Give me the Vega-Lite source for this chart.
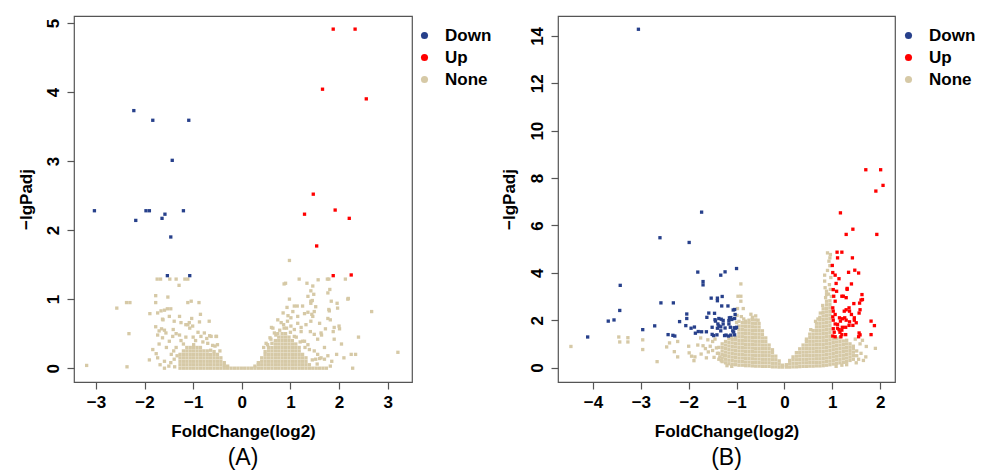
{
  "$schema": "https://vega.github.io/schema/vega-lite/v6.json",
  "background": "white",
  "padding": {"left": 16, "top": 15, "right": 0, "bottom": 0},
  "bounds": "flush",
  "spacing": 146,
  "resolve": {"scale": {"color": "independent"}, "legend": {"color": "independent"}},
  "config": {
    "font": "Liberation Sans",
    "view": {"stroke": "#555555", "strokeWidth": 1.2},
    "axis": {"domain": false, "grid": false, "tickColor": "#555555", "tickSize": 7, "tickWidth": 1.2,
      "labelFont": "Liberation Sans", "labelFontSize": 17, "labelFontWeight": "bold", "labelColor": "#000000",
      "labelPadding": 5, "labelFlush": false, "labelOverlap": false,
      "titleFont": "Liberation Sans", "titleFontSize": 17, "titleFontWeight": "bold", "titleColor": "#000000"},
    "legend": {"orient": "none", "legendX": 342, "legendY": 11, "padding": 0, "symbolType": "circle", "symbolSize": 50,
      "symbolStrokeWidth": 0, "labelFont": "Liberation Sans", "labelFontSize": 17, "labelFontWeight": "bold",
      "labelColor": "#000000", "labelOffset": 12, "rowPadding": 4},
    "title": {"font": "Liberation Sans", "fontSize": 23, "fontWeight": "normal", "color": "#000000", "offset": 8}
  },
  "datasets": {
    "aDown": [{"x":-2.22,"y":3.73},{"x":-1.83,"y":3.59},{"x":-1.09,"y":3.59},{"x":-1.43,"y":3.01},{"x":-3.03,"y":2.28},{"x":-2.18,"y":2.14},{"x":-1.97,"y":2.28},{"x":-1.9,"y":2.28},{"x":-1.64,"y":2.17},{"x":-1.58,"y":2.23},{"x":-1.2,"y":2.28},{"x":-1.46,"y":1.9},{"x":-1.53,"y":1.34},{"x":-1.07,"y":1.34}],
    "aUp": [{"x":1.88,"y":4.91},{"x":2.33,"y":4.91},{"x":1.66,"y":4.04},{"x":2.56,"y":3.9},{"x":1.47,"y":2.52},{"x":1.29,"y":2.23},{"x":1.92,"y":2.29},{"x":2.21,"y":2.17},{"x":1.54,"y":1.77},{"x":1.88,"y":1.34},{"x":2.25,"y":1.35}],
    "aNone": [
      {"x":-1.27,"y":0},{"x":-1.27,"y":0.05},{"x":-1.27,"y":0.1},{"x":-1.27,"y":0.15},{"x":-1.27,"y":0.2},
      {"x":-1.2,"y":0},{"x":-1.2,"y":0.05},{"x":-1.2,"y":0.1},{"x":-1.2,"y":0.15},{"x":-1.2,"y":0.2},{"x":-1.2,"y":0.25},
      {"x":-1.13,"y":0},{"x":-1.13,"y":0.05},{"x":-1.13,"y":0.1},{"x":-1.13,"y":0.15},{"x":-1.13,"y":0.2},{"x":-1.13,"y":0.25},{"x":-1.13,"y":0.3},
      {"x":-1.06,"y":0},{"x":-1.06,"y":0.05},{"x":-1.06,"y":0.1},{"x":-1.06,"y":0.15},{"x":-1.06,"y":0.2},{"x":-1.06,"y":0.25},{"x":-1.06,"y":0.3},
      {"x":-0.99,"y":0},{"x":-0.99,"y":0.05},{"x":-0.99,"y":0.1},{"x":-0.99,"y":0.15},{"x":-0.99,"y":0.2},{"x":-0.99,"y":0.25},{"x":-0.99,"y":0.3},{"x":-0.99,"y":0.34},
      {"x":-0.92,"y":0},{"x":-0.92,"y":0.05},{"x":-0.92,"y":0.1},{"x":-0.92,"y":0.15},{"x":-0.92,"y":0.2},{"x":-0.92,"y":0.25},{"x":-0.92,"y":0.3},
      {"x":-0.85,"y":0},{"x":-0.85,"y":0.05},{"x":-0.85,"y":0.1},{"x":-0.85,"y":0.15},{"x":-0.85,"y":0.2},{"x":-0.85,"y":0.25},{"x":-0.85,"y":0.3},
      {"x":-0.78,"y":0},{"x":-0.78,"y":0.05},{"x":-0.78,"y":0.1},{"x":-0.78,"y":0.15},{"x":-0.78,"y":0.2},{"x":-0.78,"y":0.25},
      {"x":-0.71,"y":0},{"x":-0.71,"y":0.05},{"x":-0.71,"y":0.1},{"x":-0.71,"y":0.15},{"x":-0.71,"y":0.2},{"x":-0.71,"y":0.25},
      {"x":-0.64,"y":0},{"x":-0.64,"y":0.05},{"x":-0.64,"y":0.1},{"x":-0.64,"y":0.15},{"x":-0.64,"y":0.2},{"x":-0.64,"y":0.26},
      {"x":-0.57,"y":0},{"x":-0.57,"y":0.05},{"x":-0.57,"y":0.1},{"x":-0.57,"y":0.15},{"x":-0.57,"y":0.2},{"x":-0.57,"y":0.24},
      {"x":-0.5,"y":0},{"x":-0.5,"y":0.05},{"x":-0.5,"y":0.1},{"x":-0.5,"y":0.15},{"x":-0.5,"y":0.2},
      {"x":-0.43,"y":0},{"x":-0.43,"y":0.05},{"x":-0.43,"y":0.1},{"x":-0.43,"y":0.15},
      {"x":-0.36,"y":0},{"x":-0.36,"y":0.04},{"x":-0.36,"y":0.08},
      {"x":-0.29,"y":0},{"x":-0.29,"y":0.03},
      {"x":-0.22,"y":0},{"x":-0.15,"y":0},{"x":-0.08,"y":0},{"x":-0.01,"y":0},{"x":0.06,"y":0},{"x":0.13,"y":0},{"x":0.2,"y":0},
      {"x":0.27,"y":0},{"x":0.27,"y":0.03},
      {"x":0.34,"y":0},{"x":0.34,"y":0.05},{"x":0.34,"y":0.08},
      {"x":0.41,"y":0},{"x":0.41,"y":0.05},{"x":0.41,"y":0.1},{"x":0.41,"y":0.15},
      {"x":0.48,"y":0},{"x":0.48,"y":0.05},{"x":0.48,"y":0.1},{"x":0.48,"y":0.15},{"x":0.48,"y":0.2},{"x":0.48,"y":0.24},
      {"x":0.55,"y":0},{"x":0.55,"y":0.05},{"x":0.55,"y":0.1},{"x":0.55,"y":0.15},{"x":0.55,"y":0.2},{"x":0.55,"y":0.25},{"x":0.55,"y":0.3},
      {"x":0.62,"y":0},{"x":0.62,"y":0.05},{"x":0.62,"y":0.1},{"x":0.62,"y":0.15},{"x":0.62,"y":0.2},{"x":0.62,"y":0.25},{"x":0.62,"y":0.3},{"x":0.62,"y":0.36},
      {"x":0.69,"y":0},{"x":0.69,"y":0.05},{"x":0.69,"y":0.1},{"x":0.69,"y":0.15},{"x":0.69,"y":0.2},{"x":0.69,"y":0.25},{"x":0.69,"y":0.3},{"x":0.69,"y":0.35},{"x":0.69,"y":0.4},
      {"x":0.76,"y":0},{"x":0.76,"y":0.05},{"x":0.76,"y":0.1},{"x":0.76,"y":0.15},{"x":0.76,"y":0.2},{"x":0.76,"y":0.25},{"x":0.76,"y":0.3},{"x":0.76,"y":0.35},{"x":0.76,"y":0.4},{"x":0.76,"y":0.45},
      {"x":0.83,"y":0},{"x":0.83,"y":0.05},{"x":0.83,"y":0.1},{"x":0.83,"y":0.15},{"x":0.83,"y":0.2},{"x":0.83,"y":0.25},{"x":0.83,"y":0.3},{"x":0.83,"y":0.35},{"x":0.83,"y":0.4},{"x":0.83,"y":0.45},{"x":0.83,"y":0.5},
      {"x":0.9,"y":0},{"x":0.9,"y":0.05},{"x":0.9,"y":0.1},{"x":0.9,"y":0.15},{"x":0.9,"y":0.2},{"x":0.9,"y":0.25},{"x":0.9,"y":0.3},{"x":0.9,"y":0.35},{"x":0.9,"y":0.4},{"x":0.9,"y":0.45},{"x":0.9,"y":0.5},
      {"x":0.97,"y":0},{"x":0.97,"y":0.05},{"x":0.97,"y":0.1},{"x":0.97,"y":0.15},{"x":0.97,"y":0.2},{"x":0.97,"y":0.25},{"x":0.97,"y":0.3},{"x":0.97,"y":0.35},{"x":0.97,"y":0.4},{"x":0.97,"y":0.45},
      {"x":1.04,"y":0},{"x":1.04,"y":0.05},{"x":1.04,"y":0.1},{"x":1.04,"y":0.15},{"x":1.04,"y":0.2},{"x":1.04,"y":0.25},{"x":1.04,"y":0.3},{"x":1.04,"y":0.35},{"x":1.04,"y":0.4},
      {"x":1.11,"y":0},{"x":1.11,"y":0.05},{"x":1.11,"y":0.1},{"x":1.11,"y":0.15},{"x":1.11,"y":0.2},{"x":1.11,"y":0.25},{"x":1.11,"y":0.3},{"x":1.11,"y":0.35},
      {"x":1.18,"y":0},{"x":1.18,"y":0.05},{"x":1.18,"y":0.1},{"x":1.18,"y":0.15},{"x":1.18,"y":0.2},{"x":1.18,"y":0.25},{"x":1.18,"y":0.3},
      {"x":1.25,"y":0},{"x":1.25,"y":0.05},{"x":1.25,"y":0.1},{"x":1.25,"y":0.15},{"x":1.25,"y":0.2},
      {"x":1.32,"y":0},{"x":1.32,"y":0.05},{"x":1.32,"y":0.1},{"x":1.32,"y":0.15},
      {"x":1.39,"y":0},{"x":1.39,"y":0.05},{"x":1.46,"y":0},{"x":1.53,"y":0},{"x":1.6,"y":0},{"x":1.67,"y":0},
      {"x":-3.19,"y":0.04},{"x":-2.57,"y":0.87},{"x":-2.37,"y":0.95},{"x":-2.3,"y":0.95},{"x":-2.32,"y":0.5},{"x":-2.36,"y":0.02},
      {"x":-1.74,"y":1.29},{"x":-1.67,"y":1.29},{"x":-1.48,"y":1.29},{"x":-1.35,"y":1.29},{"x":-1.17,"y":1.29},{"x":-1.11,"y":1.29},{"x":-1.29,"y":1.2},
      {"x":-1.77,"y":1.05},{"x":-1.77,"y":0.95},{"x":-1.52,"y":1.03},{"x":-1.11,"y":0.95},{"x":-1.04,"y":0.97},{"x":-0.88,"y":0.95},
      {"x":-1.89,"y":0.79},{"x":-1.73,"y":0.8},{"x":-1.59,"y":0.84},{"x":-1.53,"y":0.86},{"x":-1.46,"y":0.86},{"x":-1.62,"y":0.7},{"x":-1.28,"y":0.75},{"x":-1.03,"y":0.72},{"x":-0.87,"y":0.67},{"x":-0.67,"y":0.68},
      {"x":-1.77,"y":0.6},{"x":-1.73,"y":0.48},{"x":-1.65,"y":0.57},{"x":-1.59,"y":0.55},{"x":-1.11,"y":0.63},{"x":-1.07,"y":0.58},{"x":-1.35,"y":0.5},{"x":-1.28,"y":0.48},{"x":-0.52,"y":0.46},{"x":-0.66,"y":0.47},{"x":-0.72,"y":0.43},
      {"x":-1.66,"y":0.83},{"x":-1.63,"y":0.71},{"x":-1.49,"y":0.75},{"x":-1.39,"y":0.68},{"x":-1.41,"y":0.56},{"x":-1.25,"y":0.66},
      {"x":-1.7,"y":0.54},{"x":-1.63,"y":0.44},{"x":-1.56,"y":0.51},{"x":-1.49,"y":0.39},{"x":-1.42,"y":0.46},
      {"x":-1.76,"y":0.21},{"x":-1.73,"y":0.15},{"x":-1.59,"y":0.1},{"x":-1.46,"y":0.08},{"x":-1.39,"y":0.13},{"x":-1.59,"y":0},
      {"x":-1.15,"y":0.63},{"x":-1.08,"y":0.66},{"x":-1.01,"y":0.61},{"x":-0.85,"y":0.78},{"x":-0.63,"y":0.46},{"x":-0.77,"y":0.51},{"x":-0.84,"y":0.46},{"x":-0.53,"y":0.46},{"x":-0.5,"y":0.34},
      {"x":-1.2,"y":0.35},{"x":-0.95,"y":0.4},{"x":-0.8,"y":0.38},{"x":-0.6,"y":0.33},{"x":-0.45,"y":0.25},{"x":-1.35,"y":0.3},{"x":-1.4,"y":0.25},{"x":-1.33,"y":0.18},{"x":-1.45,"y":0.2},{"x":-1.55,"y":0.3},{"x":-1.7,"y":0.35},{"x":-1.83,"y":0.27},{"x":-1.9,"y":0.12},{"x":-1.68,"y":0.05},{"x":-1.5,"y":0.03},{"x":-1.38,"y":0.02},{"x":-1,"y":0.45},{"x":-0.9,"y":0.52},{"x":-1.15,"y":0.45},{"x":-1.25,"y":0.4},{"x":-0.7,"y":0.36},{"x":-0.55,"y":0.32},
      {"x":0.98,"y":1.56},{"x":0.9,"y":1.23},{"x":1.18,"y":1.29},{"x":1.34,"y":1.23},{"x":1.57,"y":1.28},{"x":1.76,"y":1.29},{"x":1.79,"y":1.29},{"x":2.13,"y":1.29},{"x":1.42,"y":1.12},{"x":1.81,"y":1.14},
      {"x":0.98,"y":1},{"x":2.18,"y":1},{"x":1.96,"y":0.94},{"x":1.45,"y":0.98},{"x":1.42,"y":0.94},{"x":1.14,"y":0.9},{"x":1.52,"y":0.89},{"x":2.67,"y":0.82},{"x":1.36,"y":0.81},{"x":1.44,"y":0.78},
      {"x":1.79,"y":0.85},{"x":1.77,"y":0.72},{"x":1.82,"y":0.7},{"x":1.88,"y":0.53},{"x":2.01,"y":0.57},{"x":1.72,"y":0.57},{"x":3.21,"y":0.23},{"x":2.25,"y":0.2},{"x":2.34,"y":0.2},{"x":2.28,"y":0},
      {"x":1.77,"y":0.18},{"x":1.6,"y":0.14},{"x":1.52,"y":0.13},
      {"x":0.61,"y":0.59},{"x":0.81,"y":0.66},{"x":0.86,"y":0.63},{"x":0.95,"y":0.76},{"x":1.01,"y":0.73},{"x":1.22,"y":0.59},{"x":1.32,"y":0.63},{"x":1.42,"y":0.68},{"x":1.41,"y":0.53},{"x":1.49,"y":0.49},{"x":1.64,"y":0.48},{"x":1.29,"y":0.39},
      {"x":0.87,"y":1.22},{"x":1.08,"y":0.9},{"x":1.29,"y":0.79},{"x":1.46,"y":0.75},{"x":1.49,"y":0.82},{"x":1.42,"y":0.97},{"x":1.48,"y":1.07},
      {"x":0.74,"y":0.7},{"x":0.87,"y":0.58},{"x":0.94,"y":0.68},{"x":1.01,"y":0.61},{"x":1.08,"y":0.56},{"x":1.15,"y":0.65},{"x":1.22,"y":0.53},{"x":1.08,"y":0.46},
      {"x":0.64,"y":0.58},{"x":0.67,"y":0.51},{"x":0.74,"y":0.5},{"x":0.6,"y":0.42},{"x":0.53,"y":0.34},
      {"x":1.25,"y":0.39},{"x":1.36,"y":0.34},{"x":1.39,"y":0.27},{"x":1.49,"y":0.25},{"x":1.56,"y":0.2},{"x":1.63,"y":0.15},{"x":1.7,"y":0.13},
      {"x":1.74,"y":0},{"x":1.8,"y":0.83},{"x":1.9,"y":0.59},{"x":2,"y":0.61},{"x":1.63,"y":0.51},{"x":1.56,"y":0.42},
      {"x":1.97,"y":0.87},{"x":1.84,"y":0.97},{"x":1.77,"y":1.09},{"x":2.19,"y":1.01},{"x":1.36,"y":1.04},{"x":1.46,"y":1.19},
      {"x":0.45,"y":0.3},{"x":0.5,"y":0.36},{"x":0.58,"y":0.44},{"x":0.7,"y":0.48},{"x":0.78,"y":0.55},{"x":0.92,"y":0.58},{"x":1,"y":0.52},{"x":1.12,"y":0.45},{"x":1.2,"y":0.38},{"x":1.3,"y":0.3},{"x":1.45,"y":0.12},{"x":1.55,"y":0.06},{"x":1.82,"y":0.03},{"x":1.85,"y":0.1},{"x":1.95,"y":0.2},{"x":2.05,"y":0.35},{"x":1.9,"y":0.42},{"x":1.15,"y":0.75},{"x":1.05,"y":0.82},{"x":0.93,"y":0.88},{"x":0.85,"y":0.8},{"x":1.25,"y":0.9},{"x":1.6,"y":0.65},{"x":1.7,"y":0.3},{"x":2.1,"y":0.15},{"x":2.4,"y":0.45}
    ],
    "bDown": [{"x":-3.05,"y":14.28},{"x":-1.73,"y":6.56},{"x":-2.6,"y":5.48},{"x":-1.99,"y":5.28},{"x":-1.81,"y":4.03},{"x":-1,"y":4.18},{"x":-1.24,"y":4.04},{"x":-1.33,"y":3.9},{"x":-1.7,"y":3.63},{"x":-1.7,"y":3.49},{"x":-3.43,"y":3.47},{"x":-3.44,"y":2.41},{"x":-2.58,"y":2.73},{"x":-2.32,"y":2.73},{"x":-3.68,"y":1.96},{"x":-3.56,"y":2.01},{"x":-4.11,"y":1.29},{"x":-2.96,"y":1.6},{"x":-2.71,"y":1.76},{"x":-2.43,"y":1.39},{"x":-2.33,"y":1.36},{"x":-2.29,"y":1.33},{"x":-2.04,"y":2.26},{"x":-2.04,"y":2.07},{"x":-2.19,"y":1.94},{"x":-2.06,"y":1.77},{"x":-1.95,"y":1.66},{"x":-1.88,"y":1.71},{"x":-1.86,"y":1.45},{"x":-1.8,"y":1.52},{"x":-1.73,"y":1.51},{"x":-1.63,"y":1.51},{"x":-1.62,"y":2.12},{"x":-1.58,"y":2.3},{"x":-1.53,"y":2.93},{"x":-1.51,"y":1.7},{"x":-1.51,"y":1.4},{"x":-1.46,"y":2.29},{"x":-1.4,"y":2.82},{"x":-1.4,"y":2.93},{"x":-1.3,"y":3},{"x":-1.44,"y":1.96},{"x":-1.45,"y":2.02},{"x":-1.39,"y":1.84},{"x":-1.37,"y":2.07},{"x":-1.37,"y":1.76},{"x":-1.33,"y":1.72},{"x":-1.32,"y":2.04},{"x":-1.28,"y":1.99},{"x":-1.28,"y":1.84},{"x":-1.4,"y":1.66},{"x":-1.33,"y":1.55},{"x":-1.24,"y":1.67},{"x":-1.22,"y":1.37},{"x":-1.16,"y":1.84},{"x":-1.13,"y":1.7},{"x":-1.12,"y":2.11},{"x":-1.15,"y":2.1},{"x":-1.18,"y":2.6},{"x":-1.31,"y":2.6},{"x":-1.07,"y":2.43},{"x":-1.04,"y":2.45},{"x":-1.03,"y":2.24},{"x":-1.04,"y":2.07},{"x":-1.1,"y":2.03},{"x":-1.16,"y":1.98},{"x":-1.05,"y":1.68},{"x":-1.02,"y":1.66},{"x":-1,"y":1.7},{"x":-1.08,"y":1.55},{"x":-1.12,"y":1.37},{"x":-1.04,"y":1.38},{"x":-1.06,"y":1.5},{"x":-1.48,"y":1.35},{"x":-1.41,"y":1.38},{"x":-1.25,"y":1.35},{"x":-1.17,"y":1.33}],
    "bUp": [{"x":1.7,"y":8.35},{"x":2.01,"y":8.35},{"x":2.06,"y":7.69},{"x":1.91,"y":7.45},{"x":1.17,"y":6.53},{"x":1.29,"y":5.62},{"x":1.43,"y":5.84},{"x":1.93,"y":5.62},{"x":1.1,"y":4.87},{"x":1.2,"y":4.87},{"x":1.11,"y":4.63},{"x":1.42,"y":4.63},{"x":1,"y":4.31},{"x":1.01,"y":4.01},{"x":1.06,"y":3.9},{"x":1.14,"y":3.75},{"x":1.08,"y":3.55},{"x":1.34,"y":4.02},{"x":1.47,"y":4.11},{"x":1.55,"y":3.99},{"x":1.4,"y":3.53},{"x":1.02,"y":3.29},{"x":1.03,"y":3.01},{"x":1.09,"y":3.22},{"x":1.06,"y":2.8},{"x":1.31,"y":3.3},{"x":1.2,"y":3.01},{"x":1.29,"y":2.95},{"x":1.62,"y":3.08},{"x":1.6,"y":2.85},{"x":1.45,"y":2.7},{"x":1.01,"y":2.52},{"x":1.02,"y":2.38},{"x":1.06,"y":2.24},{"x":1.01,"y":2.14},{"x":1.02,"y":2},{"x":1.06,"y":1.84},{"x":1.11,"y":1.82},{"x":1.25,"y":2.38},{"x":1.29,"y":2.44},{"x":1.35,"y":2.52},{"x":1.36,"y":2.38},{"x":1.4,"y":2.24},{"x":1.15,"y":2.1},{"x":1.17,"y":1.96},{"x":1.21,"y":2.06},{"x":1.26,"y":2.1},{"x":1.29,"y":2},{"x":1.36,"y":1.93},{"x":1.46,"y":2.1},{"x":1.57,"y":2.72},{"x":1.58,"y":2.44},{"x":1.56,"y":2.3},{"x":1.02,"y":1.64},{"x":1.04,"y":1.49},{"x":1.11,"y":1.66},{"x":1.14,"y":1.6},{"x":1.2,"y":1.58},{"x":1.21,"y":1.7},{"x":1.16,"y":1.49},{"x":1.2,"y":1.39},{"x":1.01,"y":1.33},{"x":1.06,"y":1.3},{"x":1.18,"y":1.3},{"x":1.28,"y":1.7},{"x":1.28,"y":1.39},{"x":1.35,"y":1.78},{"x":1.56,"y":1.46},{"x":1.55,"y":1.3},{"x":1.58,"y":1.38},{"x":1.81,"y":1.96},{"x":1.88,"y":1.77},{"x":1.81,"y":1.39},{"x":1.46,"y":2},{"x":1.5,"y":1.89},{"x":1.43,"y":1.78},{"x":1.31,"y":3.34},{"x":1.23,"y":3.01},{"x":1.63,"y":2.87}],
    "bNone": [
      {"x":-0.04,"y":0.02},{"x":-0.04,"y":0.1},
      {"x":-0.11,"y":0.02},{"x":-0.11,"y":0.15},{"x":-0.11,"y":0.28},
      {"x":-0.18,"y":0.03},{"x":-0.18,"y":0.18},{"x":-0.18,"y":0.33},{"x":-0.18,"y":0.48},
      {"x":-0.25,"y":0.03},{"x":-0.25,"y":0.18},{"x":-0.25,"y":0.33},{"x":-0.25,"y":0.48},{"x":-0.25,"y":0.63},{"x":-0.25,"y":0.75},
      {"x":-0.32,"y":0.05},{"x":-0.32,"y":0.2},{"x":-0.32,"y":0.35},{"x":-0.32,"y":0.5},{"x":-0.32,"y":0.65},{"x":-0.32,"y":0.8},{"x":-0.32,"y":0.95},
      {"x":-0.39,"y":0.05},{"x":-0.39,"y":0.2},{"x":-0.39,"y":0.35},{"x":-0.39,"y":0.5},{"x":-0.39,"y":0.65},{"x":-0.39,"y":0.8},{"x":-0.39,"y":0.95},{"x":-0.39,"y":1.1},{"x":-0.39,"y":1.25},
      {"x":-0.46,"y":0.05},{"x":-0.46,"y":0.2},{"x":-0.46,"y":0.35},{"x":-0.46,"y":0.5},{"x":-0.46,"y":0.65},{"x":-0.46,"y":0.8},{"x":-0.46,"y":0.95},{"x":-0.46,"y":1.1},{"x":-0.46,"y":1.25},{"x":-0.46,"y":1.4},{"x":-0.46,"y":1.55},
      {"x":-0.53,"y":0.06},{"x":-0.53,"y":0.21},{"x":-0.53,"y":0.36},{"x":-0.53,"y":0.51},{"x":-0.53,"y":0.66},{"x":-0.53,"y":0.81},{"x":-0.53,"y":0.96},{"x":-0.53,"y":1.11},{"x":-0.53,"y":1.26},{"x":-0.53,"y":1.41},{"x":-0.53,"y":1.56},{"x":-0.53,"y":1.71},{"x":-0.53,"y":1.86},
      {"x":-0.6,"y":0.06},{"x":-0.6,"y":0.21},{"x":-0.6,"y":0.36},{"x":-0.6,"y":0.51},{"x":-0.6,"y":0.66},{"x":-0.6,"y":0.81},{"x":-0.6,"y":0.96},{"x":-0.6,"y":1.11},{"x":-0.6,"y":1.26},{"x":-0.6,"y":1.41},{"x":-0.6,"y":1.56},{"x":-0.6,"y":1.71},{"x":-0.6,"y":1.86},{"x":-0.6,"y":2.01},
      {"x":-0.67,"y":0.07},{"x":-0.67,"y":0.22},{"x":-0.67,"y":0.37},{"x":-0.67,"y":0.52},{"x":-0.67,"y":0.67},{"x":-0.67,"y":0.82},{"x":-0.67,"y":0.97},{"x":-0.67,"y":1.12},{"x":-0.67,"y":1.27},{"x":-0.67,"y":1.42},{"x":-0.67,"y":1.57},{"x":-0.67,"y":1.72},{"x":-0.67,"y":1.87},{"x":-0.67,"y":2.02},{"x":-0.67,"y":2.12},
      {"x":-0.74,"y":0.08},{"x":-0.74,"y":0.23},{"x":-0.74,"y":0.38},{"x":-0.74,"y":0.53},{"x":-0.74,"y":0.68},{"x":-0.74,"y":0.83},{"x":-0.74,"y":0.98},{"x":-0.74,"y":1.13},{"x":-0.74,"y":1.28},{"x":-0.74,"y":1.43},{"x":-0.74,"y":1.58},{"x":-0.74,"y":1.73},{"x":-0.74,"y":1.88},{"x":-0.74,"y":2.0},
      {"x":-0.81,"y":0.08},{"x":-0.81,"y":0.23},{"x":-0.81,"y":0.38},{"x":-0.81,"y":0.53},{"x":-0.81,"y":0.68},{"x":-0.81,"y":0.83},{"x":-0.81,"y":0.98},{"x":-0.81,"y":1.13},{"x":-0.81,"y":1.28},{"x":-0.81,"y":1.43},{"x":-0.81,"y":1.58},{"x":-0.81,"y":1.73},{"x":-0.81,"y":1.88},{"x":-0.81,"y":1.96},
      {"x":-0.88,"y":0.1},{"x":-0.88,"y":0.25},{"x":-0.88,"y":0.4},{"x":-0.88,"y":0.55},{"x":-0.88,"y":0.7},{"x":-0.88,"y":0.85},{"x":-0.88,"y":1.0},{"x":-0.88,"y":1.15},{"x":-0.88,"y":1.3},{"x":-0.88,"y":1.45},{"x":-0.88,"y":1.6},{"x":-0.88,"y":1.75},{"x":-0.88,"y":1.9},
      {"x":-0.95,"y":0.1},{"x":-0.95,"y":0.25},{"x":-0.95,"y":0.4},{"x":-0.95,"y":0.55},{"x":-0.95,"y":0.7},{"x":-0.95,"y":0.85},{"x":-0.95,"y":1.0},{"x":-0.95,"y":1.15},{"x":-0.95,"y":1.3},{"x":-0.95,"y":1.45},{"x":-0.95,"y":1.6},{"x":-0.95,"y":1.75},
      {"x":-1.02,"y":0.12},{"x":-1.02,"y":0.27},{"x":-1.02,"y":0.42},{"x":-1.02,"y":0.57},{"x":-1.02,"y":0.72},{"x":-1.02,"y":0.87},{"x":-1.02,"y":1.02},{"x":-1.02,"y":1.17},{"x":-1.02,"y":1.27},
      {"x":-1.09,"y":0.14},{"x":-1.09,"y":0.29},{"x":-1.09,"y":0.44},{"x":-1.09,"y":0.59},{"x":-1.09,"y":0.74},{"x":-1.09,"y":0.89},{"x":-1.09,"y":1.04},{"x":-1.09,"y":1.19},
      {"x":-1.16,"y":0.16},{"x":-1.16,"y":0.31},{"x":-1.16,"y":0.46},{"x":-1.16,"y":0.61},{"x":-1.16,"y":0.76},{"x":-1.16,"y":0.91},{"x":-1.16,"y":1.06},{"x":-1.16,"y":1.21},
      {"x":-1.23,"y":0.2},{"x":-1.23,"y":0.35},{"x":-1.23,"y":0.5},{"x":-1.23,"y":0.65},{"x":-1.23,"y":0.8},{"x":-1.23,"y":0.95},{"x":-1.23,"y":1.1},
      {"x":-1.3,"y":0.25},{"x":-1.3,"y":0.4},{"x":-1.3,"y":0.55},{"x":-1.3,"y":0.7},{"x":-1.3,"y":0.85},{"x":-1.3,"y":1.0},
      {"x":-1.37,"y":0.35},{"x":-1.37,"y":0.6},{"x":-1.37,"y":0.85},
      {"x":0.04,"y":0.02},{"x":0.04,"y":0.12},
      {"x":0.11,"y":0.02},{"x":0.11,"y":0.16},{"x":0.11,"y":0.3},
      {"x":0.18,"y":0.03},{"x":0.18,"y":0.18},{"x":0.18,"y":0.33},{"x":0.18,"y":0.45},
      {"x":0.25,"y":0.03},{"x":0.25,"y":0.18},{"x":0.25,"y":0.33},{"x":0.25,"y":0.48},{"x":0.25,"y":0.63},
      {"x":0.32,"y":0.04},{"x":0.32,"y":0.19},{"x":0.32,"y":0.34},{"x":0.32,"y":0.49},{"x":0.32,"y":0.64},{"x":0.32,"y":0.79},
      {"x":0.39,"y":0.05},{"x":0.39,"y":0.2},{"x":0.39,"y":0.35},{"x":0.39,"y":0.5},{"x":0.39,"y":0.65},{"x":0.39,"y":0.8},{"x":0.39,"y":0.95},
      {"x":0.46,"y":0.05},{"x":0.46,"y":0.2},{"x":0.46,"y":0.35},{"x":0.46,"y":0.5},{"x":0.46,"y":0.65},{"x":0.46,"y":0.8},{"x":0.46,"y":0.95},{"x":0.46,"y":1.1},{"x":0.46,"y":1.2},
      {"x":0.53,"y":0.06},{"x":0.53,"y":0.21},{"x":0.53,"y":0.36},{"x":0.53,"y":0.51},{"x":0.53,"y":0.66},{"x":0.53,"y":0.81},{"x":0.53,"y":0.96},{"x":0.53,"y":1.11},{"x":0.53,"y":1.26},{"x":0.53,"y":1.41},
      {"x":0.6,"y":0.06},{"x":0.6,"y":0.21},{"x":0.6,"y":0.36},{"x":0.6,"y":0.51},{"x":0.6,"y":0.66},{"x":0.6,"y":0.81},{"x":0.6,"y":0.96},{"x":0.6,"y":1.11},{"x":0.6,"y":1.26},{"x":0.6,"y":1.41},{"x":0.6,"y":1.56},
      {"x":0.67,"y":0.07},{"x":0.67,"y":0.22},{"x":0.67,"y":0.37},{"x":0.67,"y":0.52},{"x":0.67,"y":0.67},{"x":0.67,"y":0.82},{"x":0.67,"y":0.97},{"x":0.67,"y":1.12},{"x":0.67,"y":1.27},{"x":0.67,"y":1.42},{"x":0.67,"y":1.57},{"x":0.67,"y":1.72},{"x":0.67,"y":1.87},
      {"x":0.74,"y":0.07},{"x":0.74,"y":0.22},{"x":0.74,"y":0.37},{"x":0.74,"y":0.52},{"x":0.74,"y":0.67},{"x":0.74,"y":0.82},{"x":0.74,"y":0.97},{"x":0.74,"y":1.12},{"x":0.74,"y":1.27},{"x":0.74,"y":1.42},{"x":0.74,"y":1.57},{"x":0.74,"y":1.72},{"x":0.74,"y":1.87},{"x":0.74,"y":2.02},{"x":0.74,"y":2.12},
      {"x":0.81,"y":0.08},{"x":0.81,"y":0.23},{"x":0.81,"y":0.38},{"x":0.81,"y":0.53},{"x":0.81,"y":0.68},{"x":0.81,"y":0.83},{"x":0.81,"y":0.98},{"x":0.81,"y":1.13},{"x":0.81,"y":1.28},{"x":0.81,"y":1.43},{"x":0.81,"y":1.58},{"x":0.81,"y":1.73},{"x":0.81,"y":1.88},{"x":0.81,"y":2.03},{"x":0.81,"y":2.18},{"x":0.81,"y":2.33},{"x":0.81,"y":2.48},
      {"x":0.88,"y":0.1},{"x":0.88,"y":0.25},{"x":0.88,"y":0.4},{"x":0.88,"y":0.55},{"x":0.88,"y":0.7},{"x":0.88,"y":0.85},{"x":0.88,"y":1.0},{"x":0.88,"y":1.15},{"x":0.88,"y":1.3},{"x":0.88,"y":1.45},{"x":0.88,"y":1.6},{"x":0.88,"y":1.75},{"x":0.88,"y":1.9},{"x":0.88,"y":2.05},{"x":0.88,"y":2.2},{"x":0.88,"y":2.35},{"x":0.88,"y":2.5},{"x":0.88,"y":2.65},{"x":0.88,"y":2.8},
      {"x":0.95,"y":0.12},{"x":0.95,"y":0.27},{"x":0.95,"y":0.42},{"x":0.95,"y":0.57},{"x":0.95,"y":0.72},{"x":0.95,"y":0.87},{"x":0.95,"y":1.02},{"x":0.95,"y":1.17},{"x":0.95,"y":1.32},{"x":0.95,"y":1.47},{"x":0.95,"y":1.62},{"x":0.95,"y":1.77},{"x":0.95,"y":1.92},{"x":0.95,"y":2.07},{"x":0.95,"y":2.22},{"x":0.95,"y":2.37},{"x":0.95,"y":2.52},{"x":0.95,"y":2.67},{"x":0.95,"y":2.82},
      {"x":1.02,"y":0.15},{"x":1.02,"y":0.3},{"x":1.02,"y":0.45},{"x":1.02,"y":0.6},{"x":1.02,"y":0.75},{"x":1.02,"y":0.9},{"x":1.02,"y":1.05},{"x":1.02,"y":1.2},
      {"x":1.09,"y":0.18},{"x":1.09,"y":0.33},{"x":1.09,"y":0.48},{"x":1.09,"y":0.63},{"x":1.09,"y":0.78},{"x":1.09,"y":0.93},{"x":1.09,"y":1.08},{"x":1.09,"y":1.23},
      {"x":1.16,"y":0.2},{"x":1.16,"y":0.35},{"x":1.16,"y":0.5},{"x":1.16,"y":0.65},{"x":1.16,"y":0.8},{"x":1.16,"y":0.95},{"x":1.16,"y":1.1},{"x":1.16,"y":1.25},
      {"x":1.23,"y":0.22},{"x":1.23,"y":0.37},{"x":1.23,"y":0.52},{"x":1.23,"y":0.67},{"x":1.23,"y":0.82},{"x":1.23,"y":0.97},{"x":1.23,"y":1.12},
      {"x":1.3,"y":0.25},{"x":1.3,"y":0.4},{"x":1.3,"y":0.55},{"x":1.3,"y":0.7},{"x":1.3,"y":0.85},{"x":1.3,"y":1.0},{"x":1.3,"y":1.15},
      {"x":1.37,"y":0.3},{"x":1.37,"y":0.44},{"x":1.37,"y":0.58},{"x":1.37,"y":0.72},{"x":1.37,"y":0.86},{"x":1.37,"y":1.0},
      {"x":1.44,"y":0.35},{"x":1.44,"y":0.5},{"x":1.44,"y":0.65},{"x":1.44,"y":0.8},{"x":1.44,"y":0.9},
      {"x":1.51,"y":0.5},{"x":1.51,"y":0.7},
      {"x":-4.46,"y":0.89},{"x":-3.46,"y":1.29},{"x":-3.27,"y":1.26},{"x":-3.44,"y":1.08},{"x":-3.27,"y":1.08},{"x":-2.96,"y":1.17},{"x":-2.96,"y":0.76},{"x":-2.66,"y":0.25},{"x":-2.46,"y":0.87},{"x":-2.4,"y":1.04},{"x":-2.3,"y":0.67},{"x":-2.23,"y":0.45},{"x":-2.23,"y":1.1},{"x":-2,"y":0.9},{"x":-1.99,"y":0.62},{"x":-1.94,"y":0.48},{"x":-1.89,"y":0.29},{"x":-1.87,"y":0.45},{"x":-1.81,"y":0.95},{"x":-1.74,"y":0.57},{"x":-1.7,"y":0.92},{"x":-1.63,"y":0.41},{"x":-1.59,"y":0.66},{"x":-1.47,"y":0.43},{"x":-1.42,"y":0.83},{"x":-1.32,"y":0.29},{"x":-1.25,"y":0.5},{"x":-1.6,"y":1.17},{"x":-1.5,"y":1.1},
      {"x":-0.91,"y":3.53},{"x":-0.97,"y":3.01},{"x":-0.91,"y":3.01},{"x":-0.98,"y":2.49},{"x":-0.86,"y":2.49},{"x":-0.91,"y":2.8},
      {"x":-1.45,"y":1.2},{"x":-1.55,"y":0.9},{"x":-1.4,"y":0.6},{"x":-1.5,"y":0.72},{"x":-1.35,"y":0.45},{"x":-1.2,"y":0.08},{"x":-1.1,"y":0.05},{"x":-1.65,"y":0.8},{"x":-1.75,"y":1.25},{"x":-1.1,"y":1.28},{"x":-0.95,"y":1.95},{"x":-0.99,"y":2.2},{"x":-0.9,"y":2.15},{"x":-0.85,"y":2.05},{"x":-0.7,"y":2.25},{"x":-0.6,"y":2.18},{"x":-0.55,"y":2.0},{"x":-1,"y":1.9},
      {"x":1.71,"y":0.89},{"x":1.9,"y":0.81},{"x":1.7,"y":0.45},{"x":0.9,"y":4.84},{"x":0.96,"y":4.77},{"x":0.95,"y":4.63},{"x":0.93,"y":4.49},{"x":0.85,"y":3.37},{"x":0.88,"y":3.22},{"x":0.88,"y":3.08},{"x":0.84,"y":3.9},{"x":0.84,"y":3.65},
      {"x":1.55,"y":0.35},{"x":1.6,"y":0.6},{"x":1.58,"y":1.0},{"x":1.63,"y":1.15},{"x":1.48,"y":1.2},{"x":1.5,"y":0.2},{"x":1.65,"y":0.3},{"x":1.08,"y":0.05},{"x":1.2,"y":0.1},{"x":1.3,"y":0.12},{"x":0.98,"y":3.0},{"x":0.92,"y":3.1},{"x":0.96,"y":3.3},{"x":0.94,"y":3.5},{"x":0.97,"y":3.8},{"x":0.9,"y":4.1},{"x":0.95,"y":4.3},{"x":0.86,"y":2.95},{"x":0.75,"y":2.3},{"x":0.7,"y":2.05},{"x":0.8,"y":2.62},{"x":0.65,"y":1.95},{"x":0.55,"y":1.6}
    ]
  },
  "hconcat": [
    {
      "width": 338, "height": 366,
      "title": {"text": "(A)", "orient": "bottom"},
      "encoding": {
        "x": {"field": "x", "type": "quantitative", "scale": {"domain": [-3.45, 3.5], "nice": false, "zero": false},
          "axis": {"title": "FoldChange(log2)", "values": [-3, -2, -1, 0, 1, 2, 3], "titleY": 49, "titleBaseline": "middle"}},
        "y": {"field": "y", "type": "quantitative", "scale": {"domain": [-0.2, 5.1], "nice": false, "zero": false},
          "axis": {"title": "−lgPadj", "values": [0, 1, 2, 3, 4, 5], "labelAngle": -90, "titleX": -48, "titleY": 183, "titleBaseline": "middle", "titleAngle": -90}}
      },
      "layer": [
        {"data": {"name": "aNone"}, "mark": {"type": "square", "size": 11, "opacity": 1},
          "encoding": {"color": {"datum": "None", "type": "nominal", "scale": {"domain": ["Down", "Up", "None"], "range": ["#27408B", "#FF0000", "#D6C9A6"]}, "legend": {"title": null}}}},
        {"data": {"name": "aDown"}, "mark": {"type": "square", "size": 11, "opacity": 1},
          "encoding": {"color": {"datum": "Down", "type": "nominal"}}},
        {"data": {"name": "aUp"}, "mark": {"type": "square", "size": 11, "opacity": 1},
          "encoding": {"color": {"datum": "Up", "type": "nominal"}}}
      ]
    },
    {
      "width": 337, "height": 366,
      "title": {"text": "(B)", "orient": "bottom"},
      "encoding": {
        "x": {"field": "x", "type": "quantitative", "scale": {"domain": [-4.73, 2.31], "nice": false, "zero": false},
          "axis": {"title": "FoldChange(log2)", "values": [-4, -3, -2, -1, 0, 1, 2], "titleY": 49, "titleBaseline": "middle"}},
        "y": {"field": "y", "type": "quantitative", "scale": {"domain": [-0.61, 14.84], "nice": false, "zero": false},
          "axis": {"title": "−lgPadj", "values": [0, 2, 4, 6, 8, 10, 12, 14], "labelAngle": -90, "titleX": -49, "titleY": 183, "titleBaseline": "middle", "titleAngle": -90}}
      },
      "layer": [
        {"data": {"name": "bNone"}, "mark": {"type": "square", "size": 11, "opacity": 1},
          "encoding": {"color": {"datum": "None", "type": "nominal", "scale": {"domain": ["Down", "Up", "None"], "range": ["#27408B", "#FF0000", "#D6C9A6"]}, "legend": {"title": null}}}},
        {"data": {"name": "bDown"}, "mark": {"type": "square", "size": 11, "opacity": 1},
          "encoding": {"color": {"datum": "Down", "type": "nominal"}}},
        {"data": {"name": "bUp"}, "mark": {"type": "square", "size": 11, "opacity": 1},
          "encoding": {"color": {"datum": "Up", "type": "nominal"}}}
      ]
    }
  ]
}
